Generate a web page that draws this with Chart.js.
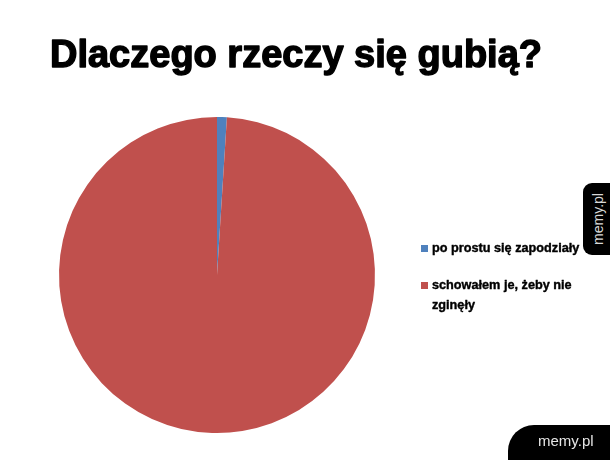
<!DOCTYPE html>
<html lang="pl">
<head>
    <meta charset="UTF-8">
    <title>Dlaczego rzeczy się gubią?</title>
    <style>
        html, body { margin: 0; padding: 0; background: #fff; }
        #wrap { position: relative; width: 610px; height: 460px; overflow: hidden; }
        .tab { position: absolute; background: #000; color: #d8d8d8;
               font-family: "Liberation Sans", Arial, sans-serif; }
        #tab-side { left: 583px; top: 183px; width: 30px; height: 72px; border-radius: 9px 0 0 9px; }
        #tab-side span { position: absolute; left: 15px; top: 36px; font-size: 14px;
                         transform: translate(-50%, -50%) rotate(-90deg); white-space: nowrap; }
        #tab-bottom { left: 508px; top: 425px; width: 110px; height: 40px; border-radius: 26px 0 0 0; }
        #tab-bottom span { position: absolute; left: 30px; top: 7px; font-size: 15px; color: #e6e6e6; }
    </style>
</head>
<body>
<div id="wrap">
    <canvas id="myChart" width="610" height="460"></canvas>
    <div class="tab" id="tab-side"><span>memy.pl</span></div>
    <div class="tab" id="tab-bottom"><span>memy.pl</span></div>
</div>

<script src="https://cdn.jsdelivr.net/npm/chart.js"></script>
<script>
    var chartTitle = 'Dlaczego rzeczy się gubią?';
    var labels = ['po prostu się zapodziały', 'schowałem je, żeby nie zginęły'];
    // legend text as it wraps in the picture
    var legendLines = [['po prostu się zapodziały'], ['schowałem je, żeby nie', 'zginęły']];
    var values = [1, 99];
    var colors = ['#4f81bd', '#c0504d'];

    // title and legend drawn by hand so they sit where the original has them
    var extras = {
        id: 'extras',
        afterDraw: function(chart) {
            var ctx = chart.ctx;
            ctx.save();
            ctx.fillStyle = '#000';
            ctx.strokeStyle = '#000';
            ctx.lineWidth = 1.4;
            ctx.lineJoin = 'round';
            ctx.textAlign = 'center';
            ctx.textBaseline = 'alphabetic';
            ctx.font = 'bold 38px "Liberation Sans", Arial, sans-serif';
            ctx.fillText(chartTitle, 296, 67);
            ctx.strokeText(chartTitle, 296, 67);

            ctx.textAlign = 'left';
            ctx.textBaseline = 'middle';
            ctx.font = 'bold 12.7px "Liberation Sans", Arial, sans-serif';
            ctx.lineWidth = 0.4;
            var y = 248;
            for (var i = 0; i < legendLines.length; i++) {
                ctx.fillStyle = chart.data.datasets[0].backgroundColor[i];
                ctx.fillRect(421, y - 3, 7, 7);
                ctx.fillStyle = '#000';
                for (var j = 0; j < legendLines[i].length; j++) {
                    ctx.fillText(legendLines[i][j], 432, y + j * 20);
                    ctx.strokeText(legendLines[i][j], 432, y + j * 20);
                }
                y += 37;
            }
            ctx.restore();
        }
    };

    new Chart(document.getElementById('myChart'), {
        type: 'pie',
        data: {
            labels: labels,
            datasets: [{
                data: values,
                backgroundColor: colors,
                borderWidth: 0
            }]
        },
        options: {
            responsive: false,
            animation: false,
            layout: { padding: { left: 58, right: 234, top: 117, bottom: 27 } },
            plugins: {
                legend: { display: false },
                tooltip: { enabled: false },
                title: { display: false }
            }
        },
        plugins: [extras]
    });
</script>
</body>
</html>
